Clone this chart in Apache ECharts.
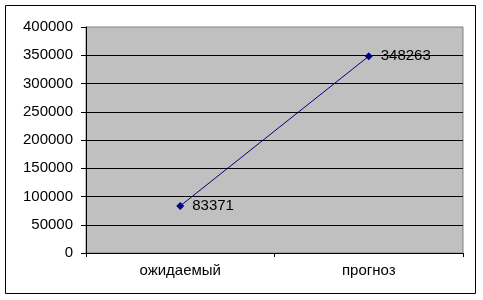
<!DOCTYPE html>
<html><head><meta charset="utf-8">
<script src="https://cdn.jsdelivr.net/npm/echarts@6/dist/echarts.min.js"></script>
<style>html,body{margin:0;padding:0;background:#fff}#c{width:483px;height:300px}</style>
</head><body><div id="c"></div>
<script>
var categories = ['ожидаемый', 'прогноз'];
var values = [83371, 348263];
var yMin = 0, yMax = 400000, yStep = 50000;

var chart = echarts.init(document.getElementById('c'), null, {renderer: 'canvas'});
var font = '"Liberation Sans", Arial, sans-serif';
chart.setOption({
  animation: false,
  backgroundColor: '#ffffff',
  graphic: [{
    type: 'rect', shape: {x: 5.5, y: 5.5, width: 470, height: 288},
    style: {fill: null, stroke: '#000', lineWidth: 1}, z: 100
  }],
  grid: {left: 86, right: 20, top: 27, bottom: 47, show: true,
    backgroundColor: '#C0C0C0', borderColor: '#808080', borderWidth: 1},
  xAxis: {
    type: 'category', data: categories, boundaryGap: true,
    axisLine: {show: true, lineStyle: {color: '#000', width: 1}},
    axisTick: {show: true, length: 4, alignWithLabel: false, lineStyle: {color: '#000'}},
    axisLabel: {color: '#000', fontFamily: font, fontSize: 15, margin: 10},
    splitLine: {show: false}
  },
  yAxis: {
    type: 'value', min: yMin, max: yMax, interval: yStep,
    axisLine: {show: true, lineStyle: {color: '#000', width: 1}},
    axisTick: {show: true, length: 5, lineStyle: {color: '#000'}},
    axisLabel: {color: '#000', fontFamily: font, fontSize: 15, margin: 13,
      formatter: function (v) { return String(v); }},
    splitLine: {show: true, showMaxLine: false, lineStyle: {color: '#000', width: 1}}
  },
  series: [{
    type: 'line', data: values,
    symbol: 'diamond', symbolSize: 8,
    lineStyle: {color: '#000080', width: 1},
    itemStyle: {color: '#000080'},
    label: {show: true, position: 'right', distance: 8, color: '#000',
      fontFamily: font, fontSize: 15}
  }]
});
</script></body></html>
